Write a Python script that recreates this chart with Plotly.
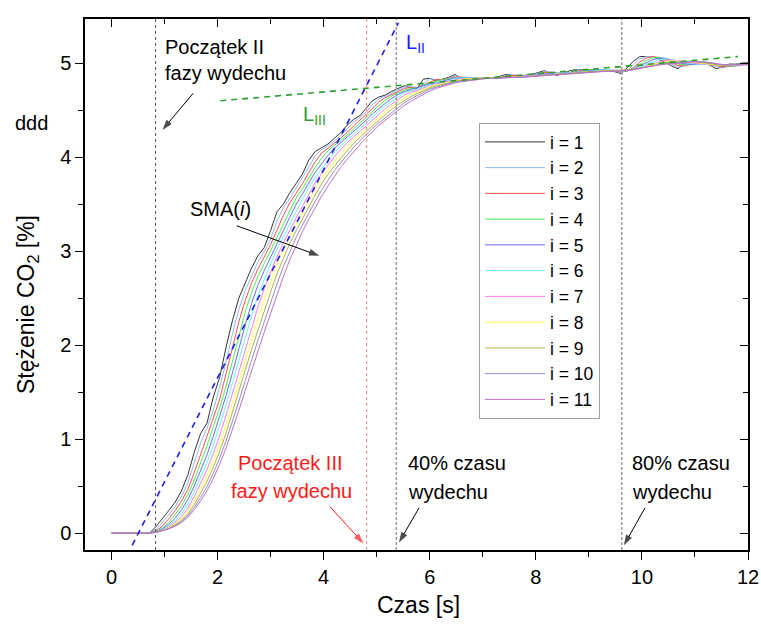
import numpy as np
import plotly.graph_objects as go

# ---------------- data ----------------
dt = 0.12  # sampling interval [s]
raw_co2 = [
    0, 0, 0, 0, 0, 0, 0, 0.07, 0.15, 0.24,
    0.33, 0.45, 0.62, 0.86, 1.06, 1.17, 1.45, 1.66, 1.98, 2.26,
    2.50, 2.66, 2.82, 2.95, 3.04, 3.22, 3.42, 3.50, 3.62, 3.72,
    3.82, 3.97, 4.06, 4.10, 4.14, 4.20, 4.26, 4.34, 4.40, 4.44,
    4.52, 4.60, 4.64, 4.66, 4.70, 4.73, 4.76, 4.74, 4.73, 4.83,
    4.84, 4.81, 4.83, 4.85, 4.88, 4.83, 4.83, 4.84, 4.84, 4.84,
    4.84, 4.86, 4.88, 4.87, 4.86, 4.87, 4.88, 4.90, 4.92, 4.89,
    4.87, 4.89, 4.92, 4.93, 4.93, 4.93, 4.93, 4.92, 4.92, 4.91,
    4.89, 4.95, 5.02, 5.07, 5.07, 5.07, 5.04, 5.01, 4.97, 4.94,
    5.00, 5.01, 5.00, 5.00, 4.98, 4.94, 4.96, 4.99, 4.99, 5.00,
    5.01,
]
windows = list(range(1, 12))
labels = [f"i = {i}" for i in windows]
colors = ["#333333", "#8fb6f2", "#ff4d4d", "#4cf04c", "#6a6aff", "#66f7f7",
          "#ff7aff", "#ffff4a", "#b0b04a", "#8c8cd0", "#c070c0"]

phase2_start = 0.83   # Początek II fazy
phase3_start = 4.81   # Początek III fazy
pct40_time = 5.37
pct80_time = 9.62

L2_t = [0.39, 5.41]
L2_v = [-0.13, 5.43]
L3_t = [2.05, 11.81]
L3_v = [4.60, 5.07]

x_ticks = [0, 2, 4, 6, 8, 10, 12]
y_ticks = [0, 1, 2, 3, 4, 5]

# ---------------- helpers ----------------
t = np.round(np.arange(len(raw_co2)) * dt, 2)
raw = np.array(raw_co2, dtype=float)


def sma(v, n):
    out = np.empty_like(v)
    for k in range(len(v)):
        out[k] = v[max(0, k - n + 1):k + 1].mean()
    return out


W, H = 761, 631
ML, MR, MT, MB = 85, 13, 19, 81
PW, PH = W - ML - MR, H - MT - MB


def P(X, Y):
    return (X - ML) / PW, (H - MB - Y) / PH


FONT = "Liberation Sans, Arial, sans-serif"

fig = go.Figure()

for i, lab, col in zip(windows, labels, colors):
    fig.add_trace(go.Scatter(
        x=t, y=sma(raw, i), mode="lines", name=lab,
        line=dict(color=col, width=1),
    ))

fig.add_trace(go.Scatter(x=L2_t, y=L2_v, mode="lines", showlegend=False,
                         line=dict(color="#1a1aff", width=1.6, dash="6px,5px")))
fig.add_trace(go.Scatter(x=L3_t, y=L3_v, mode="lines", showlegend=False,
                         line=dict(color="#2e9e2e", width=1.6, dash="6px,5px")))
# dummy trace for mirrored axes
fig.add_trace(go.Scatter(x=[None], y=[None], xaxis="x2", yaxis="y2",
                         showlegend=False, hoverinfo="skip"))

# vertical marker lines
vlines = [
    (phase2_start, "#555555", 1, "3px,3px"),
    (phase3_start, "#ff8080", 1, "3px,3px"),
    (pct40_time, "#999999", 1.5, "3px,2px"),
    (pct80_time, "#999999", 1.5, "3px,2px"),
]
for xv, col, w, d in vlines:
    fig.add_shape(type="line", xref="x", yref="paper", x0=xv, x1=xv, y0=0, y1=1,
                  line=dict(color=col, width=w, dash=d))

ann = []


def text(X, Y, s, color="black", size=20, xanchor="left", **kw):
    px, py = P(X, Y)
    ann.append(dict(x=px, y=py, xref="paper", yref="paper", text=s, showarrow=False,
                    xanchor=xanchor, yanchor="middle",
                    font=dict(family=FONT, size=size, color=color), **kw))


def arrow(hx, hy, tx, ty, color="black"):
    # line from tail to head, with an arrow marker at the head
    fig.add_trace(go.Scatter(
        x=[tx, hx], y=[ty, hy], mode="lines+markers", showlegend=False, hoverinfo="skip",
        line=dict(color=color, width=1),
        marker=dict(symbol="arrow", size=[0, 11], angleref="previous", color=color,
                    line=dict(width=0)),
    ))


text(163, 47, "Początek II")
text(163, 73, "fazy wydechu")
text(404, 43, "L<sub>II</sub>", color="#1a1aff", size=20)
text(301, 115, "L<sub>III</sub>", color="#2e9e2e", size=20)
text(188, 209, "SMA(<i>i</i>)")
text(290, 463, "Początek III", color="#ff1a1a", xanchor="center")
text(291, 491, "fazy wydechu", color="#ff1a1a", xanchor="center")
text(406, 463, "40% czasu")
text(406, 492, "wydechu")
text(630, 463, "80% czasu")
text(630, 492, "wydechu")
text(13, 123, "ddd")
text(418, 605, "Czas [s]", size=23, xanchor="center")
px, py = P(27, 305)
ann.append(dict(x=px, y=py, xref="paper", yref="paper", text="Stężenie CO<sub>2</sub> [%]",
                showarrow=False, textangle=-90, xanchor="center", yanchor="middle",
                font=dict(family=FONT, size=23, color="black")))

arrow(0.96, 4.29, 1.54, 4.68)
arrow(3.92, 2.95, 2.36, 3.27)
arrow(4.75, -0.11, 4.12, 0.28, color="#ff1a1a")
arrow(5.42, -0.10, 5.80, 0.27)
arrow(9.66, -0.13, 10.06, 0.27)

xr = [-0.5, 12]
yr = [-0.18, 5.47]
axis_common = dict(showgrid=False, zeroline=False, showline=True, linecolor="black",
                   linewidth=1.5, tickcolor="black", tickwidth=1.2, automargin=False,
                   tickfont=dict(family=FONT, size=20, color="black"))

lx, ly = P(479, 123)
fig.update_layout(
    width=W, height=H, margin=dict(l=ML, r=MR, t=MT, b=MB, autoexpand=False),
    paper_bgcolor="white", plot_bgcolor="white",
    font=dict(family=FONT, size=20, color="black"),
    xaxis=dict(range=xr, tickvals=x_ticks, ticks="outside", ticklen=8,
               minor=dict(dtick=1, ticks="outside", ticklen=5, tickcolor="black"),
               **axis_common),
    yaxis=dict(range=yr, tickvals=y_ticks, ticks="outside", ticklen=8,
               minor=dict(dtick=0.5, ticks="outside", ticklen=5, tickcolor="black"),
               **axis_common),
    xaxis2=dict(range=xr, overlaying="x", side="top", anchor="y2",
                tickmode="linear", tick0=0, dtick=2,
                ticks="inside", ticklen=8, showticklabels=False,
                minor=dict(dtick=1, ticks="inside", ticklen=5, tickcolor="black"),
                **axis_common),
    yaxis2=dict(range=yr, overlaying="y", side="right", anchor="x2",
                tickmode="linear", tick0=0, dtick=1,
                ticks="inside", ticklen=8, showticklabels=False,
                minor=dict(dtick=0.5, ticks="inside", ticklen=5, tickcolor="black"),
                **axis_common),
    legend=dict(x=lx, y=ly, xanchor="left", yanchor="top", bgcolor="white",
                bordercolor="#a0a0a0", borderwidth=1, itemwidth=60,
                font=dict(family=FONT, size=17.5, color="black")),
    annotations=ann,
    showlegend=True,
)

fig.write_html("out.html")
